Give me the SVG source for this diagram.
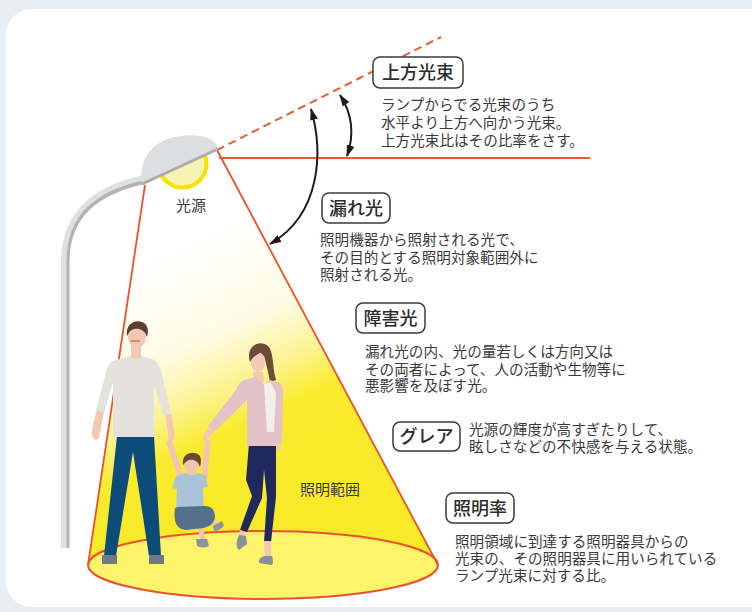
<svg xmlns="http://www.w3.org/2000/svg" width="752" height="612" viewBox="0 0 752 612">
  <style>
    .label-box { fill: #ffffff; stroke: #3a3a3a; stroke-width: 1.5; }
    .label { font-family: "Noto Sans CJK JP", "Noto Sans", sans-serif; font-size: 18px; font-weight: 500; fill: #2b2b2b; }
    .desc { font-family: "Noto Sans CJK JP", "Noto Sans", sans-serif; font-size: 14.6px; fill: #3a3a3a; }
    .small { font-family: "Noto Sans CJK JP", "Noto Sans", sans-serif; font-size: 15px; fill: #3a3a3a; }
    .beam { fill: none; stroke: #e9532c; stroke-width: 1.8; }
    .arrow { fill: none; stroke: #231815; stroke-width: 2; marker-start: url(#head); marker-end: url(#head); }
  </style>
  <defs>
    <marker id="head" viewBox="0 0 12 8" refX="11" refY="4" markerWidth="12" markerHeight="8" markerUnits="userSpaceOnUse" orient="auto-start-reverse">
      <path d="M0,0 L12,4 L0,8 Z" fill="#231815"/>
    </marker>
    <linearGradient id="coneFill" gradientUnits="userSpaceOnUse" x1="190" y1="240" x2="290" y2="460">
      <stop offset="0" stop-color="#ffffff"/>
      <stop offset="0.4" stop-color="#fffbe4"/>
      <stop offset="0.62" stop-color="#fcf390"/>
      <stop offset="0.78" stop-color="#f9ec30"/>
      <stop offset="1" stop-color="#f8ea28"/>
    </linearGradient>
  </defs>

  <!-- page background and card -->
  <rect x="0" y="0" width="752" height="612" fill="#e8eef3"/>
  <rect x="6" y="9" width="780" height="598" rx="26" fill="#ffffff"/>

  <!-- light cone and illuminated area -->
  <g id="cone">
    <path d="M145,185 L217,150 L438,565 A175,34 0 0 1 88,565 Z" fill="url(#coneFill)"/>
    <ellipse cx="263" cy="565" rx="175" ry="34" fill="#fff36c" stroke="#e9532c" stroke-width="2"/>
    <line class="beam" x1="145" y1="185" x2="88" y2="565"/>
    <line class="beam" x1="217" y1="150" x2="438" y2="565"/>
    <text class="small" x="330" y="495" text-anchor="middle" font-size="14">照明範囲</text>
  </g>

  <!-- reference lines -->
  <g id="reference-lines">
    <line x1="219" y1="158" x2="590" y2="158" stroke="#ef5a30" stroke-width="2"/>
    <line x1="217" y1="150" x2="441" y2="37" stroke="#ef5a30" stroke-width="2" stroke-dasharray="8 5"/>
  </g>

  <!-- street light -->
  <g id="street-light">
    <path d="M65.5,548 L65.5,262 C65.5,214 96,191 143,180" fill="none" stroke="#b3b4b5" stroke-width="8"/>
    <path d="M64,548 L64,262 C64,213 94,189 142,178" fill="none" stroke="#dfe0e1" stroke-width="5"/>
    <circle cx="182.5" cy="163.5" r="24" fill="#f8f3b2" stroke="#f5e300" stroke-width="4"/>
    <path d="M142,185 C138,162 150,142 175,137 C195,133 214,136 218,148 Z" fill="#dddedf"/>
    <line x1="142" y1="184" x2="218" y2="149" stroke="#a9aaab" stroke-width="3"/>
    <text class="small" x="191" y="211" text-anchor="middle" font-size="15.5">光源</text>
  </g>

  <!-- angle arrows -->
  <g id="connectors">
    <path class="arrow" d="M340,95 C353,115 354,136 347,156"/>
    <path class="arrow" d="M311,109 C323,150 322,214 270,244"/>
  </g>

  <!-- family -->
  <g id="family">
    <!-- man -->
    <g id="man">
      <path d="M117,436 L104,556 L116,556 L133,452 L149,556 L161,556 L154,436 Z" fill="#0d4b7b"/>
      <path d="M102,555 h15 v9 h-15 z M149,555 h15 v9 h-15 z" fill="#6d7a87"/>
      <rect x="131" y="343" width="10" height="16" fill="#f2c8b2"/>
      <ellipse cx="137" cy="337" rx="9" ry="11" fill="#f2c8b2"/>
      <path d="M127,336 C125,324 135,319 142,322 C148,324 149,331 147,337 C145,330 139,328 134,329 C130,330 129,333 127,336 Z" fill="#5b3f2f"/>
      <path d="M131,341 h9" stroke="#b4634c" stroke-width="1.2"/>
      <path d="M97,409 L92,430 Q91,438 96,440 L99,438 L104,412 Z" fill="#f2c8b2"/>
      <path d="M165,414 L168,432 Q167,440 172,442 Q176,438 174,430 L171,413 Z" fill="#f2c8b2"/>
      <path d="M130,356 L116,360 Q108,362 106,372 L96,410 L104,413 L113,382 L113,437 L154,437 L154,386 L164,416 L171,414 L161,370 Q158,361 152,359 L142,356 Q136,362 130,356 Z" fill="#e4e2dc"/>
    </g>
    <!-- child -->
    <g id="child">
      <path d="M178,478 L166,442 L171,438 L184,476 Z" fill="#f2c5b0"/>
      <path d="M201,478 L205,440 L211,440 L207,480 Z" fill="#f2c5b0"/>
      <rect x="187" y="466" width="9" height="10" fill="#f2c5b0"/>
      <ellipse cx="192" cy="464" rx="8" ry="9" fill="#f2c5b0"/>
      <path d="M183,465 C181,453 193,450 199,455 C202,458 201,464 200,467 C198,461 194,459 189,460 C186,461 185,463 183,465 Z" fill="#6b4a38"/>
      <path d="M176,476 L186,473 Q192,478 198,473 L206,476 L208,487 L203,488 L204,512 L176,514 L177,489 L172,488 Z" fill="#a9c4d8"/>
      <path d="M197,524 L200,540 L205,540 L203,523 Z M208,520 L214,527 L218,523 L212,516 Z" fill="#f2c5b0"/>
      <path d="M175,508 Q172,529 186,530 L204,528 Q215,525 215,516 Q214,505 203,506 L178,507 Z" fill="#56708a"/>
      <path d="M196,539 h11 l2,7 q-6,3 -12,0 z" fill="#8c949a"/>
      <path d="M213,526 l9,-5 l2,5 q-5,5 -10,5 z" fill="#8c949a"/>
    </g>
    <!-- woman -->
    <g id="woman">
      <path d="M249,443 L246,480 L252,496 L240,530 L247,532 L262,498 L264,470 L267,498 L264,542 L271,542 L276,497 L276,443 Z" fill="#1e2a5d"/>
      <path d="M240,530 L246,532 L244,538 L239,536 Z M264,541 L271,541 L271,556 L265,556 Z" fill="#f2c9b4"/>
      <path d="M239,535 Q234,546 239,550 L247,544 L246,536 Z" fill="#8a9097"/>
      <path d="M264,556 L272,556 Q274,562 272,565 L259,563 Q258,558 264,556 Z" fill="#8a9097"/>
      <path d="M253,372 L263,372 L264,382 L254,382 Z" fill="#f2c9b4"/>
      <path d="M212,425 L204,434 Q201,440 206,441 L214,432 Z" fill="#f2c9b4"/>
      <path d="M276,440 L277,450 L281,450 L281,440 Z" fill="#f2c9b4"/>
      <path d="M250,362 C245,346 260,339 268,346 C274,352 272,366 276,380 L270,382 C268,372 266,362 264,356 C260,354 254,356 250,362 Z" fill="#6d4a3a"/>
      <ellipse cx="258" cy="362" rx="7" ry="10" fill="#f2c9b4"/>
      <path d="M251,360 C251,350 258,346 266,350 C262,352 256,354 251,360 Z" fill="#6d4a3a"/>
      <path d="M244,380 L256,377 L264,384 L270,380 L280,383 Q284,386 283,398 L282,442 L276,444 L276,446 L247,446 L247,400 L214,432 L208,426 L236,390 Q239,382 244,380 Z" fill="#e3c3c7"/>
      <path d="M264,384 L270,382 L276,392 L274,432 L267,432 Z" fill="#f1f0eb"/>
    </g>
  </g>

  <!-- term: upward flux -->
  <g id="upward-flux">
    <rect class="label-box" x="373" y="57" width="90" height="31" rx="7"/>
    <text class="label" x="418" y="79" text-anchor="middle">上方光束</text>
    <text class="desc" x="381" y="110">ランプからでる光束のうち</text>
    <text class="desc" x="381" y="128">水平より上方へ向かう光束。</text>
    <text class="desc" x="381" y="146">上方光束比はその比率をさす。</text>
  </g>

  <!-- term: spill light -->
  <g id="spill-light">
    <rect class="label-box" x="322" y="193" width="68" height="30" rx="7"/>
    <text class="label" x="356" y="215" text-anchor="middle">漏れ光</text>
    <text class="desc" x="320" y="245">照明機器から照射される光で、</text>
    <text class="desc" x="320" y="262.5">その目的とする照明対象範囲外に</text>
    <text class="desc" x="320" y="280">照射される光。</text>
  </g>

  <!-- term: obtrusive light -->
  <g id="obtrusive-light">
    <rect class="label-box" x="356" y="303" width="69" height="30" rx="7"/>
    <text class="label" x="390.5" y="325" text-anchor="middle">障害光</text>
    <text class="desc" x="365" y="357">漏れ光の内、光の量若しくは方向又は</text>
    <text class="desc" x="365" y="374.5">その両者によって、人の活動や生物等に</text>
    <text class="desc" x="365" y="391">悪影響を及ぼす光。</text>
  </g>

  <!-- term: glare -->
  <g id="glare">
    <rect class="label-box" x="393" y="422" width="67" height="29" rx="7"/>
    <text class="label" x="426.5" y="443" text-anchor="middle">グレア</text>
    <text class="desc" x="469" y="435">光源の輝度が高すぎたりして、</text>
    <text class="desc" x="469" y="452">眩しさなどの不快感を与える状態。</text>
  </g>

  <!-- term: utilization factor -->
  <g id="utilization">
    <rect class="label-box" x="446" y="493" width="68" height="30" rx="7"/>
    <text class="label" x="480" y="515" text-anchor="middle">照明率</text>
    <text class="desc" x="455" y="546.5">照明領域に到達する照明器具からの</text>
    <text class="desc" x="455" y="564">光束の、その照明器具に用いられている</text>
    <text class="desc" x="455" y="581">ランプ光束に対する比。</text>
  </g>
</svg>
